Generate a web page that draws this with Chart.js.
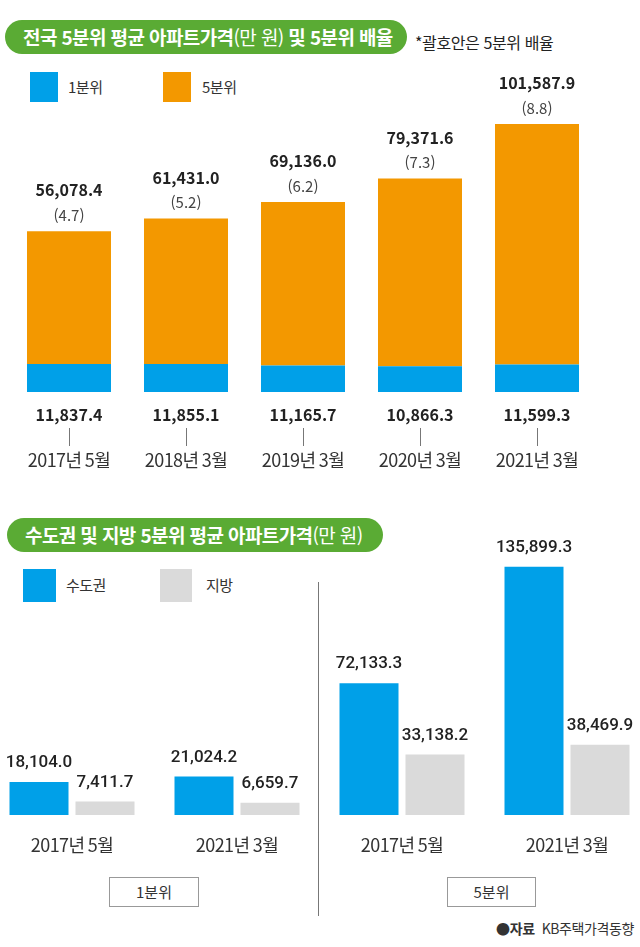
<!DOCTYPE html>
<html lang="ko">
<head>
<meta charset="utf-8">
<script src="https://cdn.jsdelivr.net/npm/chart.js@4/dist/chart.umd.min.js"></script>
<style>
  html, body { margin: 0; padding: 0; background: #fff; }
  body { width: 640px; height: 947px; position: relative; overflow: hidden;
         font-family: "Noto Sans CJK KR", "Noto Sans", sans-serif; color: #222; }
  .pill { position: absolute; background: #5aab34; color: #fff; border-radius: 17px;
          font-weight: bold; font-size: 19px; line-height: 34px; letter-spacing: -0.6px;
          padding: 0 0 0 18px; box-sizing: border-box; white-space: nowrap; }
  .pill span { font-weight: normal; }
  .note { position: absolute; font-size: 16px; letter-spacing: -0.4px; white-space: nowrap; }
  .sw { position: absolute; width: 28px; height: 30px; }
  .lg { position: absolute; font-size: 15px; letter-spacing: -0.5px; color: #333; line-height: 30px; }
  .box { position: absolute; border: 1px solid #999; background: #fff; font-size: 15px;
         text-align: center; line-height: 28px; box-sizing: border-box; color: #333; }
  canvas { position: absolute; }
</style>
</head>
<body>
<div class="pill" style="left:5px;top:20px;width:402px;height:34px;">전국 5분위 평균 아파트가격<span>(만 원)</span> 및 5분위 배율</div>
<div class="note" style="left:415px;top:30px;">*괄호안은 5분위 배율</div>
<div class="sw" style="left:30px;top:72px;background:#00a0e8"></div>
<div class="lg" style="left:68px;top:72px;">1분위</div>
<div class="sw" style="left:163px;top:72px;background:#f39800"></div>
<div class="lg" style="left:202px;top:72px;">5분위</div>

<div class="pill" style="left:7px;top:518px;width:376px;height:34px;">수도권 및 지방 5분위 평균 아파트가격<span>(만 원)</span></div>
<div class="sw" style="left:23px;top:569px;width:33px;height:33px;background:#00a0e8"></div>
<div class="lg" style="left:66px;top:570px;">수도권</div>
<div class="sw" style="left:160px;top:569px;width:32px;height:33px;background:#dadada"></div>
<div class="lg" style="left:206px;top:570px;">지방</div>
<div style="position:absolute;left:318px;top:582px;width:1px;height:334px;background:#777"></div>
<div class="box" style="left:109px;top:877px;width:90px;height:30px;">1분위</div>
<div class="box" style="left:447px;top:877px;width:89px;height:30px;">5분위</div>
<div class="note" style="right:6px;top:918px;font-size:14px;color:#333;"><b>●자료</b>&nbsp; KB주택가격동향</div>

<canvas id="top" width="640" height="480" style="left:0;top:0;width:640px;height:480px"></canvas>
<canvas id="bottom" width="680" height="467" style="left:-20px;top:480px;width:680px;height:467px"></canvas>

<script>
const BLUE = '#00a0e8';
const ORANGE = '#f39800';
const GRAY = '#dadada';

// 전국 5분위 평균 아파트가격
const periods = ['2017년 5월', '2018년 3월', '2019년 3월', '2020년 3월', '2021년 3월'];
const quintile1 = [11837.4, 11855.1, 11165.7, 10866.3, 11599.3];
const quintile5 = [56078.4, 61431.0, 69136.0, 79371.6, 101587.9];
const ratios = [4.7, 5.2, 6.2, 7.3, 8.8];

// 수도권 및 지방
const regionPeriods = ['2017년 5월', '2021년 3월', '2017년 5월', '2021년 3월'];
const capital = [18104.0, 21024.2, 72133.3, 135899.3];
const provinces = [7411.7, 6659.7, 33138.2, 38469.9];

const KR = '"Noto Sans CJK KR", "Noto Sans", sans-serif';
const fmt = v => v.toLocaleString('en-US', { minimumFractionDigits: 1, maximumFractionDigits: 1 });

function drawCategory(c, text, x, y) {
  c.save();
  c.fillStyle = '#333';
  c.font = '18px ' + KR;
  c.letterSpacing = '-0.6px';
  c.textAlign = 'center';
  c.textBaseline = 'middle';
  c.fillText(text, x, y);
  c.restore();
}

const topLabels = {
  id: 'topLabels',
  afterDatasetsDraw(chart) {
    const c = chart.ctx;
    const bottom = chart.chartArea.bottom;
    const xs = chart.scales.x;
    const m5 = chart.getDatasetMeta(1);
    c.save();
    c.textAlign = 'center';
    c.textBaseline = 'middle';
    m5.data.forEach((bar, i) => {
      c.fillStyle = '#222';
      c.font = 'bold 16px ' + KR;
      c.fillText(fmt(quintile5[i]), bar.x, bar.y - 41);
      c.fillStyle = '#444';
      c.font = '15px ' + KR;
      c.fillText('(' + ratios[i].toFixed(1) + ')', bar.x, bar.y - 16);
      c.fillStyle = '#222';
      c.font = 'bold 16px ' + KR;
      c.fillText(fmt(quintile1[i]), bar.x, bottom + 23);
      c.strokeStyle = '#777';
      c.lineWidth = 1;
      c.beginPath();
      c.moveTo(Math.round(bar.x) + 0.5, bottom + 36);
      c.lineTo(Math.round(bar.x) + 0.5, bottom + 54);
      c.stroke();
    });
    c.restore();
    periods.forEach((p, i) => drawCategory(c, p, xs.getPixelForValue(i), bottom + 68));
  }
};

new Chart(document.getElementById('top'), {
  type: 'bar',
  data: {
    labels: periods,
    datasets: [
      { label: '1분위', data: quintile1, backgroundColor: BLUE },
      { label: '5분위', data: quintile5, backgroundColor: ORANGE }
    ]
  },
  options: {
    responsive: false,
    animation: false,
    events: [],
    layout: { padding: { top: 108, left: 10.5, right: 44.5, bottom: 88 } },
    datasets: { bar: { categoryPercentage: 1, barPercentage: 0.718 } },
    plugins: { legend: { display: false }, tooltip: { enabled: false } },
    scales: {
      x: { stacked: true, display: false },
      y: { stacked: true, display: false, min: 0, max: 120000 }
    }
  },
  plugins: [topLabels]
});

const bottomLabels = {
  id: 'bottomLabels',
  afterDatasetsDraw(chart) {
    const c = chart.ctx;
    const xs = chart.scales.x;
    c.save();
    c.textAlign = 'center';
    c.textBaseline = 'middle';
    c.fillStyle = '#222';
    c.font = '500 17px Roboto, "Noto Sans", sans-serif';
    [capital, provinces].forEach((vals, d) => {
      chart.getDatasetMeta(d).data.forEach((bar, i) => {
        c.fillText(fmt(vals[i]), bar.x, bar.y - 19);
      });
    });
    c.restore();
    regionPeriods.forEach((p, i) => drawCategory(c, p, xs.getPixelForValue(i), chart.chartArea.bottom + 30));
  }
};

new Chart(document.getElementById('bottom'), {
  type: 'bar',
  data: {
    labels: regionPeriods,
    datasets: [
      { label: '수도권', data: capital, backgroundColor: BLUE },
      { label: '지방', data: provinces, backgroundColor: GRAY }
    ]
  },
  options: {
    responsive: false,
    animation: false,
    events: [],
    layout: { padding: { top: 61, left: 9.5, right: 10.5, bottom: 132 } },
    datasets: { bar: { categoryPercentage: 0.8, barPercentage: 0.894 } },
    plugins: { legend: { display: false }, tooltip: { enabled: false } },
    scales: {
      x: { display: false },
      y: { display: false, min: 0, max: 150000 }
    }
  },
  plugins: [bottomLabels]
});
</script>
</body>
</html>
